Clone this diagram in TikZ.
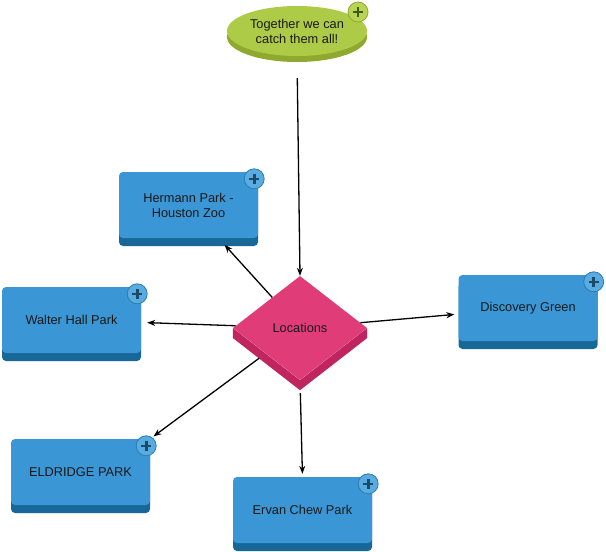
\documentclass[tikz,border=0pt]{standalone}
\usepackage{fontspec}
\setmainfont{Liberation Sans}
\usepackage{tikz}
\usetikzlibrary{arrows.meta,calc,shapes.geometric,shadows,backgrounds}
\definecolor{boxface}{HTML}{3A96D4}
\definecolor{boxrim}{HTML}{176898}
\definecolor{btnface}{HTML}{58ACE2}
\definecolor{btnrim}{HTML}{2C7CB0}
\definecolor{btnmark}{HTML}{1D4A66}
\definecolor{goalface}{HTML}{AECB47}
\definecolor{goalrim}{HTML}{8EA92E}
\definecolor{goalbtn}{HTML}{B9D453}
\definecolor{goalmark}{HTML}{3E5A17}
\definecolor{hubface}{HTML}{E03C78}
\definecolor{hubrim}{HTML}{C0255F}
\tikzset{
  link/.style={-{Stealth[length=8pt,width=6pt]}, line width=1.3pt, draw=black},
  place/.style={rectangle, rounded corners=4pt, fill=boxface, minimum width=139pt, minimum height=66pt,
    align=center, text=black!90, font=\fontsize{12.8}{15}\selectfont,
    drop shadow={shadow xshift=0pt, shadow yshift=-8pt, opacity=1, fill=boxrim}},
  hub/.style={diamond, fill=hubface, minimum width=134pt, minimum height=104pt, inner sep=0pt,
    text=black!90, font=\fontsize{12.8}{15}\selectfont},
  goal/.style={ellipse, fill=goalface, minimum width=140pt, minimum height=50pt, inner sep=0pt,
    align=center, text=black!90, font=\fontsize{12.8}{15}\selectfont,
    drop shadow={shadow xshift=0pt, shadow yshift=-6pt, opacity=1, fill=goalrim}},
  addbtn/.style={circle, minimum size=20pt, inner sep=0pt, fill=btnface, draw=btnrim, line width=0.8pt,
    path picture={
      \draw[btnmark, line width=2.6pt]
        ($(path picture bounding box.center)+(-5pt,0)$) -- ($(path picture bounding box.center)+(5pt,0)$)
        ($(path picture bounding box.center)+(0,-5pt)$) -- ($(path picture bounding box.center)+(0,5pt)$);
    }},
  goaladd/.style={addbtn, fill=goalbtn, draw=goalrim,
    path picture={
      \draw[goalmark, line width=2.6pt]
        ($(path picture bounding box.center)+(-5pt,0)$) -- ($(path picture bounding box.center)+(5pt,0)$)
        ($(path picture bounding box.center)+(0,-5pt)$) -- ($(path picture bounding box.center)+(0,5pt)$);
    }}
}
\begin{document}
\begin{tikzpicture}[x=1pt, y=-1pt]
  \useasboundingbox (0,0) rectangle (606,552);

  \node[goal] (catch) at (297,31) {Together we can\\catch them all!};
  \node[hub] (locations) at (300,328) {Locations};
  % side faces of the diamond
  \begin{scope}[on background layer]
    \fill[hubrim] (locations.west) -- ($(locations.west)+(0,10)$) -- ($(locations.south)+(0,10)$)
      -- ($(locations.east)+(0,10)$) -- (locations.east) -- (locations.south) -- cycle;
  \end{scope}

  \node[place] (hermann) at (188.5,205) {Hermann Park -\\Houston Zoo};
  \node[place] (walter) at (71.5,320) {Walter Hall Park};
  \node[place] (discovery) at (528,308) {Discovery Green};
  \node[place] (eldridge) at (80.5,472) {ELDRIDGE PARK};
  \node[place] (ervan) at (302.5,510) {Ervan Chew Park};

  % add buttons
  \node[goaladd] (catchadd) at (358,12) {};
  \node[addbtn] (hermannadd) at ($(hermann.north east)+(-4,7)$) {};
  \node[addbtn] (walteradd) at ($(walter.north east)+(-4,7)$) {};
  \node[addbtn] (discoveryadd) at ($(discovery.north east)+(-4,7)$) {};
  \node[addbtn] (eldridgeadd) at ($(eldridge.north east)+(-4,7)$) {};
  \node[addbtn] (ervanadd) at ($(ervan.north east)+(-4,7)$) {};

  \draw[link, shorten <=22pt] (catch.south) -- (locations.north);
  \draw[link, shorten >=9pt] (locations) -- (hermann);
  \draw[link, shorten >=6pt] (locations) -- (walter);
  \draw[link, shorten >=4pt] (locations) -- (discovery);
  \draw[link, shorten >=4pt, shorten <=8pt] (locations) -- (eldridge.north east);
  \draw[link, shorten <=13pt, shorten >=3pt] (locations.south) -- (ervan.north);
\end{tikzpicture}
\end{document}
